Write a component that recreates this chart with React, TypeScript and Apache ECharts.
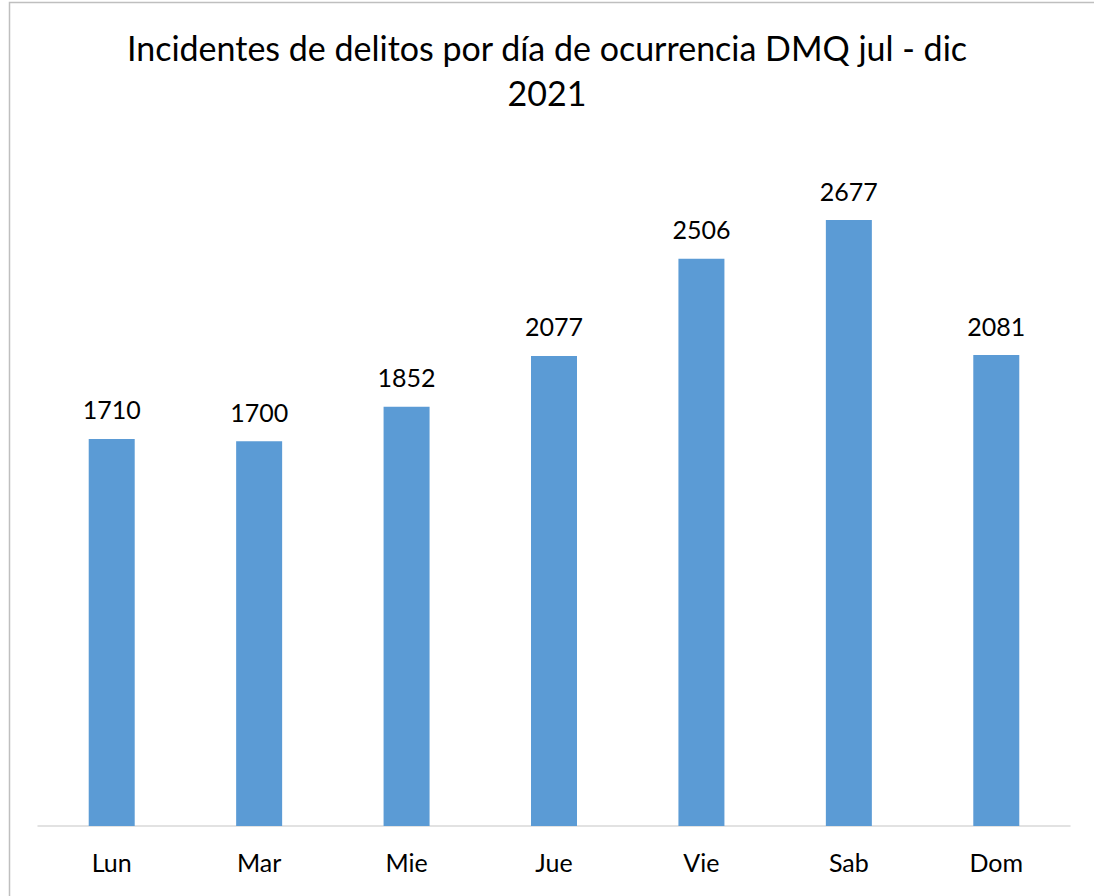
import React, { useEffect, useRef } from "react";
import * as echarts from "echarts";

const categories = ["Lun", "Mar", "Mie", "Jue", "Vie", "Sab", "Dom"];
const values = [1710, 1700, 1852, 2077, 2506, 2677, 2081];
const titleText = "Incidentes de delitos por día de ocurrencia DMQ jul - dic\n2021";

export default function App() {
  const ref = useRef<HTMLDivElement>(null);
  useEffect(() => {
    document.body.style.margin = "0";
    const chart = echarts.init(ref.current!, null, { renderer: "svg" });
    chart.setOption({
      animation: false,
      backgroundColor: "#ffffff",
      textStyle: { fontFamily: "Lato" },
      title: {
        text: titleText,
        left: "center",
        top: 20,
        textStyle: {
          fontFamily: "Lato",
          fontSize: 34,
          fontWeight: "normal",
          color: "#000000",
          lineHeight: 45,
        },
      },
      graphic: [
        {
          type: "rect",
          shape: { x: 9.5, y: 2.5, width: 1200, height: 1000 },
          style: { fill: "none", stroke: "#BFBFBF", lineWidth: 1.5 },
          silent: true,
        },
      ],
      grid: { left: 38, right: 24, top: 147, bottom: 70 },
      xAxis: {
        type: "category",
        data: categories,
        axisLine: { lineStyle: { color: "#D9D9D9", width: 1.5 } },
        axisTick: { show: false },
        axisLabel: { color: "#000000", fontSize: 25, fontFamily: "Lato", margin: 23 },
      },
      yAxis: {
        type: "value",
        min: 0,
        max: 3000,
        show: false,
        splitLine: { show: false },
      },
      series: [
        {
          type: "bar",
          data: values,
          barWidth: 46,
          itemStyle: { color: "#5B9BD5" },
          label: {
            show: true,
            position: "top",
            distance: 17,
            color: "#000000",
            fontSize: 25,
            fontFamily: "Lato",
          },
        },
      ],
    });
    return () => chart.dispose();
  }, []);
  return <div ref={ref} style={{ width: 1094, height: 896 }} />;
}
